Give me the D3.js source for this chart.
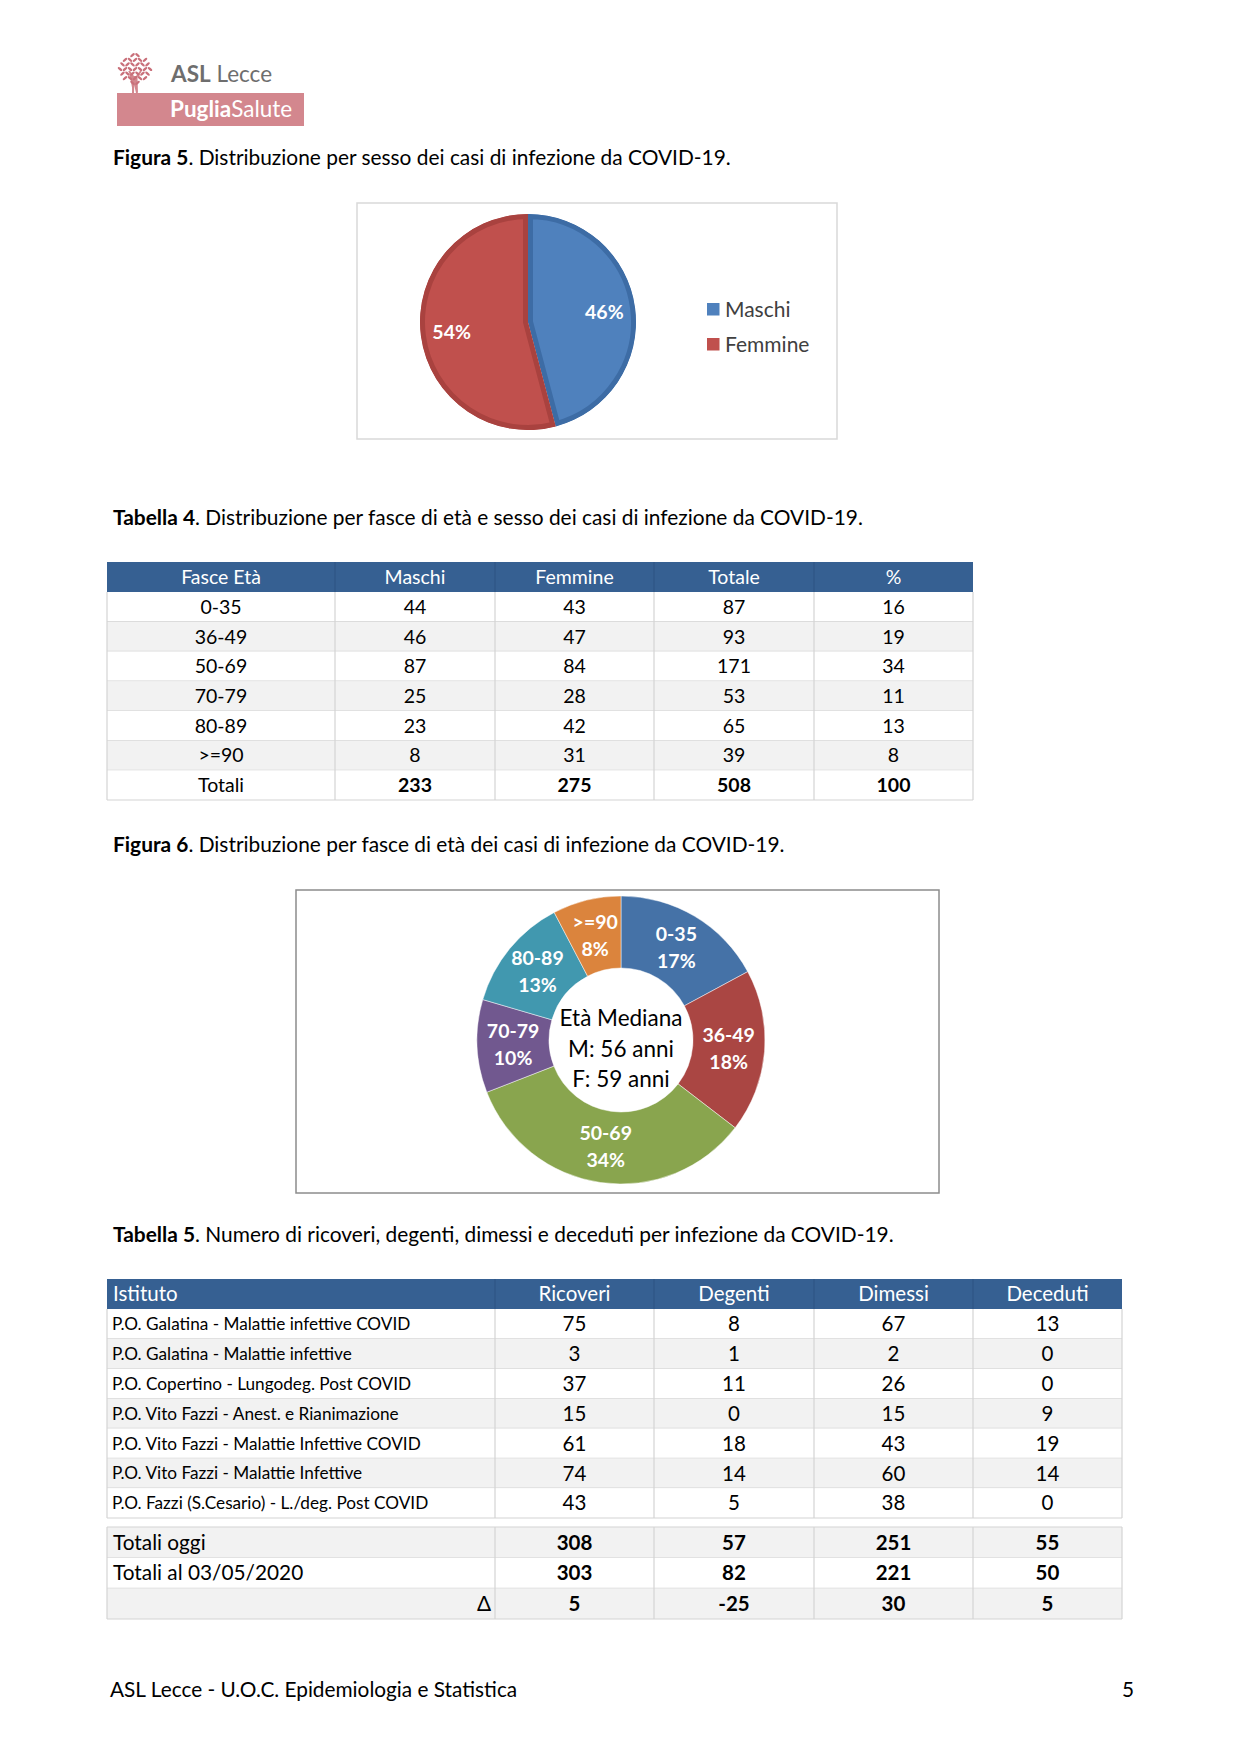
<!DOCTYPE html>
<html><head><meta charset="utf-8">
<script src="https://cdn.jsdelivr.net/npm/d3@7/dist/d3.min.js"></script>
<style>
body{margin:0;background:#fff}
svg{display:block}
text{font-family:Lato,'Open Sans',sans-serif}
</style>
</head><body>
<svg id="page" width="1241" height="1755"></svg>
<script>
// ---------------- DATA ----------------
const sexCategories = ["Maschi", "Femmine"];
const sexTotals = [233, 275];

const table4Header = ["Fasce Età", "Maschi", "Femmine", "Totale", "%"];
const ageBands = ["0-35", "36-49", "50-69", "70-79", "80-89", ">=90"];
const maschi = [44, 46, 87, 25, 23, 8];
const femmine = [43, 47, 84, 28, 42, 31];
const totale = [87, 93, 171, 53, 65, 39];
const percentuale = [16, 19, 34, 11, 13, 8];
const table4TotalLabel = "Totali";
const table4Totals = [233, 275, 508, 100];

const donutCenterLines = ["Età Mediana", "M: 56 anni", "F: 59 anni"];

const table5Header = ["Istituto", "Ricoveri", "Degenti", "Dimessi", "Deceduti"];
const istituti = [
  "P.O. Galatina - Malattie infettive COVID",
  "P.O. Galatina - Malattie infettive",
  "P.O. Copertino - Lungodeg. Post COVID",
  "P.O. Vito Fazzi - Anest. e Rianimazione",
  "P.O. Vito Fazzi - Malattie Infettive COVID",
  "P.O. Vito Fazzi - Malattie Infettive",
  "P.O. Fazzi (S.Cesario) - L./deg. Post COVID"
];
const ricoveri = [75, 3, 37, 15, 61, 74, 43];
const degenti = [8, 1, 11, 0, 18, 14, 5];
const dimessi = [67, 2, 26, 15, 43, 60, 38];
const deceduti = [13, 0, 0, 9, 19, 14, 0];
const totaliLabels = ["Totali oggi", "Totali al 03/05/2020", "Δ"];
const totaliOggi = [308, 57, 251, 55];
const totaliPrecedenti = [303, 82, 221, 50];
const delta = [5, -25, 30, 5];

// ---------------- PAGE ----------------
const svg = d3.select("#page");
svg.append("rect").attr("width", 1241).attr("height", 1755).attr("fill", "#fff");
const defs = svg.append("defs");
const LATO_CAP = 0.717;

// ---- Logo ----
const logo = svg.append("g");
const pink = "#D3878E";
logo.append("rect").attr("x", 117).attr("y", 93).attr("width", 187).attr("height", 33).attr("fill", pink);
const tree = logo.append("g").attr("transform", "translate(135,69)");
tree.append("path").attr("d", "M-2,24 L-1.5,8 L-6,2 M1.5,8 L6,2 M-1.5,8 L1.5,8 L2,24 Z")
  .attr("fill", pink).attr("stroke", pink).attr("stroke-width", 2);
const leafPos = [];
for (let r = -3; r <= 3; r++) {
  for (let c = -3; c <= 3; c++) {
    const x = c * 5 + (r % 2 ? 2.5 : 0), y = r * 4.6;
    if (x * x / 300 + y * y / 230 <= 1) leafPos.push([x, y]);
  }
}
tree.selectAll("ellipse.leaf").data(leafPos).join("ellipse").attr("class", "leaf")
  .attr("cx", d => d[0]).attr("cy", d => d[1]).attr("rx", 2.8).attr("ry", 1.2)
  .attr("transform", (d, i) => `rotate(${i % 2 ? 40 : -40},${d[0]},${d[1]})`)
  .attr("fill", "#C9707A");
const aslText = logo.append("text").attr("x", 171).attr("y", 82).attr("font-size", 22.5).attr("fill", "#6E6E6E");
aslText.append("tspan").attr("font-weight", 700).text("ASL");
aslText.append("tspan").text(" Lecce");
const pugText = logo.append("text").attr("x", 170).attr("y", 117).attr("font-size", 22.5).attr("fill", "#fff");
pugText.append("tspan").attr("font-weight", 700).text("Puglia");
pugText.append("tspan").text("Salute");

// ---- Captions ----
function caption(y, bold, rest) {
  const t = svg.append("text").attr("x", 113).attr("y", y).attr("font-size", 20.9).attr("fill", "#000");
  t.append("tspan").attr("font-weight", 700).text(bold);
  t.append("tspan").text(rest);
}
caption(165, "Figura 5", ". Distribuzione per sesso dei casi di infezione da COVID-19.");
caption(525, "Tabella 4", ". Distribuzione per fasce di età e sesso dei casi di infezione da COVID-19.");
caption(852, "Figura 6", ". Distribuzione per fasce di età dei casi di infezione da COVID-19.");
caption(1242, "Tabella 5", ". Numero di ricoveri, degenti, dimessi e deceduti per infezione da COVID-19.");

// ---- Figura 5: pie ----
svg.append("rect").attr("x", 357).attr("y", 203).attr("width", 480).attr("height", 236)
  .attr("fill", "#fff").attr("stroke", "#D9D9D9").attr("stroke-width", 1.5);
const sexColor = d3.scaleOrdinal().domain(sexCategories).range(["#4F81BD", "#C0504D"]);
const sexBorder = d3.scaleOrdinal().domain(sexCategories).range(["#3D6CA5", "#A9423F"]);
const sexPie = d3.pie().sort(null).value(d => d.value)(sexCategories.map((c, i) => ({ cat: c, value: sexTotals[i] })));
const sexSum = d3.sum(sexTotals);
const pieArc = d3.arc().innerRadius(0).outerRadius(108);
const pieLabelArc = d3.arc().innerRadius(77).outerRadius(77);
const pieG = svg.append("g").attr("transform", "translate(528,322)");
sexPie.forEach((d, i) => {
  defs.append("clipPath").attr("id", "sexclip" + i).append("path").attr("d", pieArc(d));
});
pieG.selectAll("path.slice").data(sexPie).join("path").attr("class", "slice")
  .attr("d", pieArc).attr("fill", d => sexColor(d.data.cat))
  .attr("stroke", d => sexBorder(d.data.cat)).attr("stroke-width", 10).attr("stroke-linejoin", "round")
  .attr("clip-path", (d, i) => `url(#sexclip${i})`);
pieG.selectAll("text.lbl").data(sexPie).join("text").attr("class", "lbl")
  .attr("x", d => pieLabelArc.centroid(d)[0])
  .attr("y", d => pieLabelArc.centroid(d)[1] + 19.5 * LATO_CAP / 2)
  .attr("text-anchor", "middle").attr("font-size", 19.5).attr("font-weight", 700).attr("fill", "#fff")
  .text(d => Math.round(d.value / sexSum * 100) + "%");
// legend
const legY = d3.scaleBand().domain(sexCategories).range([292, 362]);
const leg = svg.append("g");
leg.selectAll("rect").data(sexCategories).join("rect")
  .attr("x", 707).attr("y", d => legY(d) + legY.bandwidth() / 2 - 6.5).attr("width", 12.5).attr("height", 12.5)
  .attr("fill", d => sexColor(d));
leg.selectAll("text").data(sexCategories).join("text")
  .attr("x", 725).attr("y", d => legY(d) + legY.bandwidth() / 2 + 21 * LATO_CAP / 2)
  .attr("font-size", 21).attr("fill", "#404040").text(d => d);

// ---- generic table helper ----
function drawTable(opt) {
  const g = svg.append("g");
  const cols = d3.range(opt.edges.length - 1);
  const xL = d3.scaleOrdinal().domain(cols).range(opt.edges.slice(0, -1));
  const xR = d3.scaleOrdinal().domain(cols).range(opt.edges.slice(1));
  const left = opt.edges[0], right = opt.edges[opt.edges.length - 1];
  if (opt.header) {
    g.append("rect").attr("x", left).attr("y", opt.headerY[0]).attr("width", right - left)
      .attr("height", opt.headerY[1] - opt.headerY[0]).attr("fill", "#366092");
    g.selectAll("line.hdiv").data(cols.slice(1)).join("line").attr("class", "hdiv")
      .attr("x1", c => xL(c)).attr("x2", c => xL(c)).attr("y1", opt.headerY[0]).attr("y2", opt.headerY[1])
      .attr("stroke", "#2D5282").attr("stroke-width", 1);
    const hc = (opt.headerY[0] + opt.headerY[1]) / 2;
    g.selectAll("text.hd").data(opt.header).join("text").attr("class", "hd")
      .attr("x", (d, i) => (i === 0 && opt.firstLeft) ? xL(0) + 6 : (xL(i) + xR(i)) / 2)
      .attr("text-anchor", (d, i) => (i === 0 && opt.firstLeft) ? "start" : "middle")
      .attr("y", hc + opt.headerSize * LATO_CAP / 2)
      .attr("font-size", opt.headerSize).attr("fill", "#fff").text(d => d);
  }
  const y = d3.scaleBand().domain(d3.range(opt.rows.length)).range(opt.rowsY);
  const rowG = g.selectAll("g.row").data(opt.rows).join("g").attr("class", "row");
  rowG.append("rect").attr("x", left).attr("y", (d, i) => y(i)).attr("width", right - left)
    .attr("height", y.bandwidth()).attr("fill", (d, i) => opt.fill(i));
  rowG.append("line").attr("x1", left).attr("x2", right)
    .attr("y1", (d, i) => y(i) + y.bandwidth()).attr("y2", (d, i) => y(i) + y.bandwidth())
    .attr("stroke", "#D4D4D4").attr("stroke-width", 1.2);
  if (opt.topLine) {
    g.append("line").attr("x1", left).attr("x2", right).attr("y1", opt.rowsY[0]).attr("y2", opt.rowsY[0])
      .attr("stroke", "#D4D4D4").attr("stroke-width", 1.2);
  }
  g.selectAll("line.vdiv").data(opt.edges).join("line").attr("class", "vdiv")
    .attr("x1", d => d).attr("x2", d => d).attr("y1", opt.rowsY[0]).attr("y2", opt.rowsY[1])
    .attr("stroke", "#D4D4D4").attr("stroke-width", 1.2);
  rowG.each(function (row, ri) {
    const cy = y(ri) + y.bandwidth() / 2;
    d3.select(this).selectAll("text").data(row).join("text")
      .attr("x", (d, ci) => opt.cellX(ci, ri, xL, xR))
      .attr("text-anchor", (d, ci) => opt.cellAnchor(ci, ri))
      .attr("y", (d, ci) => cy + opt.cellSize(ci, ri) * LATO_CAP / 2)
      .attr("font-size", (d, ci) => opt.cellSize(ci, ri))
      .attr("font-weight", (d, ci) => opt.cellBold(ci, ri) ? 700 : 400)
      .attr("font-family", (d, ci) => opt.cellFont ? opt.cellFont(ci, ri) : null)
      .attr("fill", "#000").text(d => d);
  });
}

// ---- Tabella 4 ----
const t4Rows = ageBands.map((b, i) => [b, maschi[i], femmine[i], totale[i], percentuale[i]])
  .concat([[table4TotalLabel].concat(table4Totals)]);
drawTable({
  edges: [107, 335, 495, 654, 814, 973],
  header: table4Header, headerY: [562, 592], headerSize: 19.5, firstLeft: false,
  rows: t4Rows, rowsY: [592, 800],
  fill: i => i % 2 ? "#F2F2F2" : "#FFFFFF",
  cellX: (ci, ri, xL, xR) => (xL(ci) + xR(ci)) / 2,
  cellAnchor: () => "middle",
  cellSize: () => 19.5,
  cellBold: (ci, ri) => ri === t4Rows.length - 1 && ci > 0
});

// ---- Figura 6: donut ----
svg.append("rect").attr("x", 296).attr("y", 890).attr("width", 643).attr("height", 303)
  .attr("fill", "#fff").attr("stroke", "#8C8C8C").attr("stroke-width", 1.5);
const ageColor = d3.scaleOrdinal().domain(ageBands)
  .range(["#4572A7", "#AA4643", "#89A54E", "#71588F", "#4198AF", "#DB843D"]);
const agePie = d3.pie().sort(null).value(d => d.value)(ageBands.map((b, i) => ({ band: b, value: totale[i] })));
const ageSum = d3.sum(totale);
const donutArc = d3.arc().innerRadius(72).outerRadius(144);
const donutG = svg.append("g").attr("transform", "translate(621,1040)");
donutG.selectAll("path").data(agePie).join("path")
  .attr("d", donutArc).attr("fill", d => ageColor(d.data.band))
  .attr("stroke", "#ffffff").attr("stroke-opacity", 0.6).attr("stroke-width", 0.8);
const lblG = donutG.selectAll("g.lbl").data(agePie).join("g").attr("class", "lbl")
  .attr("transform", d => `translate(${donutArc.centroid(d)})`);
lblG.append("text").attr("text-anchor", "middle").attr("y", -13.5 + 19.5 * LATO_CAP / 2)
  .attr("font-size", 19.5).attr("font-weight", 700).attr("fill", "#fff").text(d => d.data.band);
lblG.append("text").attr("text-anchor", "middle").attr("y", 13.5 + 19.5 * LATO_CAP / 2)
  .attr("font-size", 19.5).attr("font-weight", 700).attr("fill", "#fff")
  .text(d => Math.round(d.value / ageSum * 100) + "%");
donutG.selectAll("text.center").data(donutCenterLines).join("text").attr("class", "center")
  .attr("text-anchor", "middle").attr("y", (d, i) => -22 + i * 30.5 + 22.5 * LATO_CAP / 2)
  .attr("font-size", 22.5).attr("fill", "#000").text(d => d);

// ---- Tabella 5 ----
const t5Edges = [107, 495, 654, 814, 973, 1122];
const t5Rows = istituti.map((n, i) => [n, ricoveri[i], degenti[i], dimessi[i], deceduti[i]]);
drawTable({
  edges: t5Edges,
  header: table5Header, headerY: [1279, 1309], headerSize: 20.5, firstLeft: true,
  rows: t5Rows, rowsY: [1309, 1518],
  fill: i => i % 2 ? "#F2F2F2" : "#FFFFFF",
  cellX: (ci, ri, xL, xR) => ci === 0 ? xL(0) + 5 : (xL(ci) + xR(ci)) / 2,
  cellAnchor: ci => ci === 0 ? "start" : "middle",
  cellSize: ci => ci === 0 ? 17.2 : 20.5,
  cellBold: () => false
});
const totRows = [
  [totaliLabels[0]].concat(totaliOggi),
  [totaliLabels[1]].concat(totaliPrecedenti),
  [totaliLabels[2]].concat(delta)
];
drawTable({
  edges: t5Edges,
  header: null, topLine: true,
  rows: totRows, rowsY: [1527, 1619],
  fill: i => i % 2 ? "#FFFFFF" : "#F2F2F2",
  cellX: (ci, ri, xL, xR) => ci === 0 ? (ri === 2 ? xR(0) - 4 : xL(0) + 6) : (xL(ci) + xR(ci)) / 2,
  cellAnchor: (ci, ri) => ci === 0 ? (ri === 2 ? "end" : "start") : "middle",
  cellSize: (ci, ri) => ci === 0 ? 20.8 : 20.5,
  cellBold: (ci, ri) => ci > 0,
  cellFont: (ci, ri) => (ci === 0 && ri === 2) ? "'Liberation Serif', 'DejaVu Serif', serif" : null
});

// ---- Footer ----
svg.append("text").attr("x", 110).attr("y", 1697).attr("font-size", 20.8).attr("fill", "#000")
  .text("ASL Lecce - U.O.C. Epidemiologia e Statistica");
svg.append("text").attr("x", 1122).attr("y", 1697).attr("font-size", 20.8).attr("fill", "#000").text("5");
</script>
</body></html>
